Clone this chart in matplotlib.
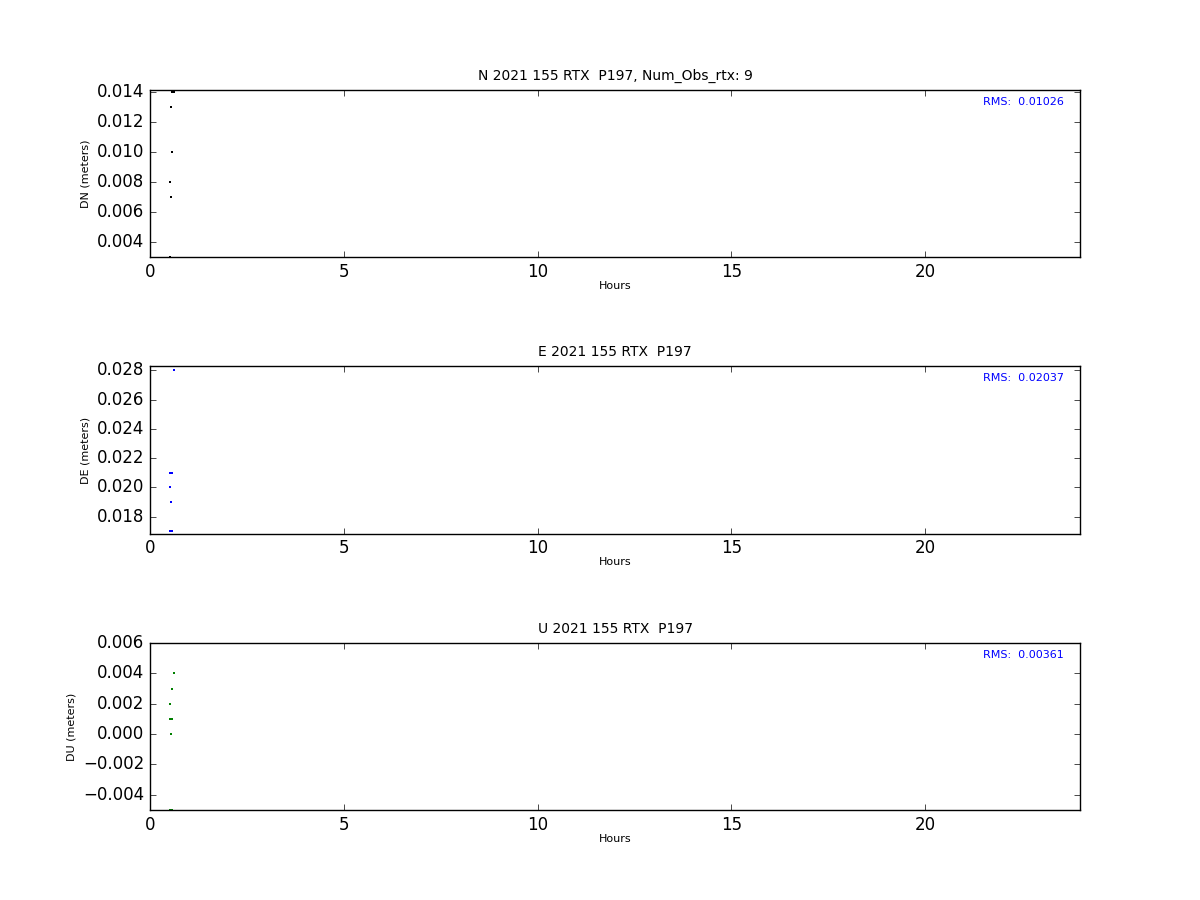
import matplotlib
matplotlib.use("Agg")
import matplotlib.pyplot as plt

plt.style.use("classic")

hours = [0.508, 0.517, 0.525, 0.534, 0.543, 0.560, 0.568, 0.577, 0.611]
dn = [0.008, 0.003, 0.008, 0.013, 0.007, 0.014, 0.010, 0.014, 0.014]
de = [0.021, 0.020, 0.017, 0.021, 0.019, 0.021, 0.017, 0.017, 0.028]
du = [0.002, 0.001, -0.005, 0.000, 0.001, 0.003, -0.005, 0.001, 0.004]

titles = ["N 2021 155 RTX  P197, Num_Obs_rtx: 9", "E 2021 155 RTX  P197", "U 2021 155 RTX  P197"]
ylabels = ["DN (meters)", "DE (meters)", "DU (meters)"]
rms = ["RMS:  0.01026", "RMS:  0.02037", "RMS:  0.00361"]
colors = ["k", "b", "g"]
ylims = [(0.003, 0.01413), (0.01685, 0.02827), (-0.005, 0.006)]
series = [dn, de, du]

fig = plt.figure(figsize=(12, 9), dpi=100, facecolor="white")
fig.subplots_adjust(left=0.125, right=0.9, bottom=0.1, top=0.9, hspace=0.655)

for i in range(3):
    ax = fig.add_subplot(3, 1, i + 1)
    ax.plot(hours, series[i], linestyle="none", marker="s", markersize=1.6,
            markeredgewidth=0, color=colors[i])
    ax.set_xlim(0, 24)
    ax.set_ylim(*ylims[i])
    ax.set_title(titles[i], fontsize=10, pad=7.2)
    ax.set_ylabel(ylabels[i], fontsize=8)
    ax.set_xlabel("Hours", fontsize=8, labelpad=0)
    ax.text(0.896, 0.93, rms[i], transform=ax.transAxes, fontsize=8, color="b",
            ha="left", va="center")

fig.savefig("out.png", dpi=100, facecolor="white")
